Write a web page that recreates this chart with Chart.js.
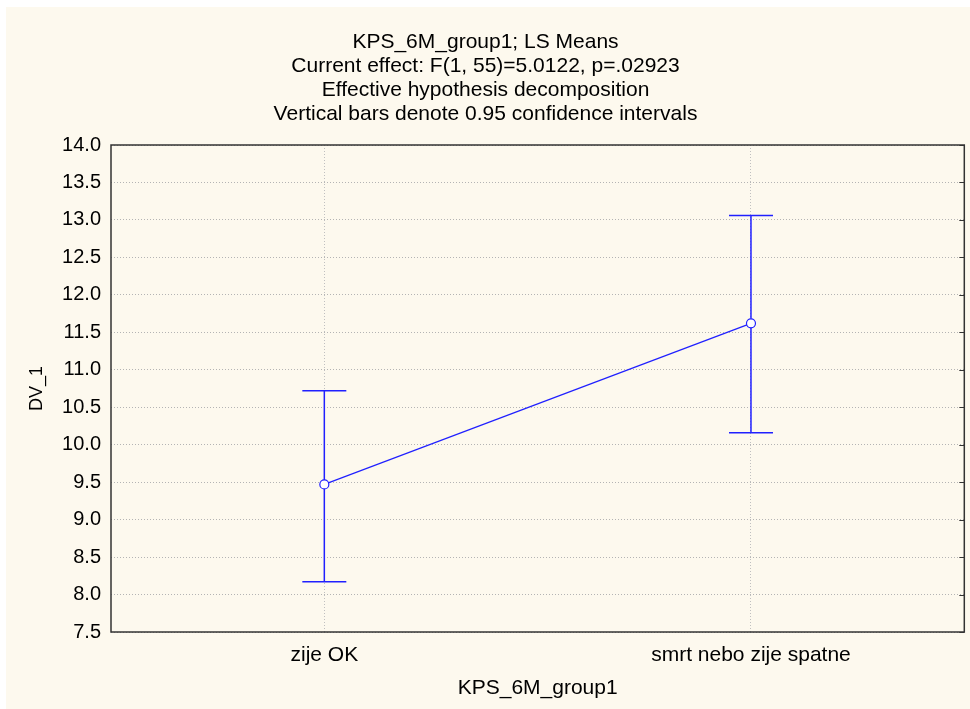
<html>
<head>
<meta charset="UTF-8">
<script src="https://cdn.jsdelivr.net/npm/chart.js"></script>
<style>
  body { margin: 0; background: #ffffff; }
  #wrap { position: absolute; left: 6px; top: 7px; width: 964px; height: 702px; background: #fdf9ee; }
</style>
</head>
<body>
<div id="wrap"><canvas id="myChart" width="964" height="702"></canvas></div>
<script>
  // data
  const categories = ['zije OK', 'smrt nebo zije spatne'];
  const means = [9.47, 11.62];
  const lower = [8.17, 10.16];
  const upper = [10.72, 13.06];

  const blue = '#2020ff';
  const font = 'Liberation Sans, Arial, sans-serif';

  // confidence interval whiskers + frame around the plot
  const ciBars = {
    id: 'ciBars',
    afterDatasetsDraw(chart) {
      const ctx = chart.ctx;
      const x = chart.scales.x, y = chart.scales.y;
      for (let i = 0; i < categories.length; i++) {
        const px = x.getPixelForValue(i);
        const top = y.getPixelForValue(upper[i]);
        const bot = y.getPixelForValue(lower[i]);
        const mid = y.getPixelForValue(means[i]);
        ctx.save();
        ctx.strokeStyle = blue;
        ctx.lineWidth = 1.5;
        ctx.setLineDash([]);
        ctx.beginPath();
        ctx.moveTo(px, top); ctx.lineTo(px, mid - 4.5);
        ctx.moveTo(px, mid + 4.5); ctx.lineTo(px, bot);
        ctx.moveTo(px - 22, top); ctx.lineTo(px + 22, top);
        ctx.moveTo(px - 22, bot); ctx.lineTo(px + 22, bot);
        ctx.stroke();
        ctx.restore();
      }
    },
    afterDraw(chart) {
      const ctx = chart.ctx;
      const a = chart.chartArea;
      const x = chart.scales.x, y = chart.scales.y;
      ctx.save();
      ctx.setLineDash([]);
      ctx.strokeStyle = '#333333';
      ctx.lineWidth = 1.5;
      ctx.strokeRect(a.left, a.top, a.right - a.left, a.bottom - a.top);
      ctx.lineWidth = 1;
      ctx.beginPath();
      y.ticks.forEach(t => {
        const py = Math.round(y.getPixelForValue(t.value)) + 0.5;
        ctx.moveTo(a.right - 5, py); ctx.lineTo(a.right, py);
      });
      ctx.stroke();
      ctx.restore();
    }
  };

  new Chart(document.getElementById('myChart'), {
    type: 'line',
    data: {
      labels: categories,
      datasets: [{
        data: means,
        borderColor: blue,
        borderWidth: 1.2,
        pointRadius: 4.5,
        pointBorderWidth: 1.2,
        pointBackgroundColor: '#ffffff',
        pointBorderColor: blue,
        tension: 0
      }]
    },
    options: {
      responsive: false,
      animation: false,
      layout: { padding: { left: 0, right: 5, top: 0, bottom: 0 } },
      plugins: {
        legend: { display: false },
        tooltip: { enabled: false },
        title: {
          display: true,
          text: ['KPS_6M_group1; LS Means',
                 'Current effect: F(1, 55)=5.0122, p=.02923',
                 'Effective hypothesis decomposition',
                 'Vertical bars denote 0.95 confidence intervals'],
          color: '#000000',
          font: { family: font, size: 21, weight: 'normal', lineHeight: '24px' },
          padding: { top: 23, bottom: 19 }
        }
      },
      scales: {
        x: {
          offset: true,
          afterFit: s => { s.height = 77; },
          grid: { drawTicks: false, color: '#c0c0c0', lineWidth: 1, offset: false },
          border: { display: false, dash: [1, 2] },
          ticks: { color: '#000000', padding: 11, font: { family: font, size: 21 } },
          title: { display: true, text: 'KPS_6M_group1', color: '#000000', padding: { top: 8, bottom: 8 }, font: { family: font, size: 21 } }
        },
        y: {
          min: 7.5,
          max: 14.0,
          afterFit: s => { s.width = 105; },
          grid: { drawTicks: false, color: '#b4b4b4', lineWidth: 1 },
          border: { display: false, dash: [1, 2] },
          ticks: {
            stepSize: 0.5,
            color: '#000000',
            padding: 10,
            font: { family: font, size: 20 },
            callback: v => v.toFixed(1)
          },
          title: { display: true, text: 'DV_1', color: '#000000', padding: { top: 20, bottom: 20 }, font: { family: font, size: 18 } }
        }
      }
    },
    plugins: [ciBars]
  });
</script>
</body>
</html>
